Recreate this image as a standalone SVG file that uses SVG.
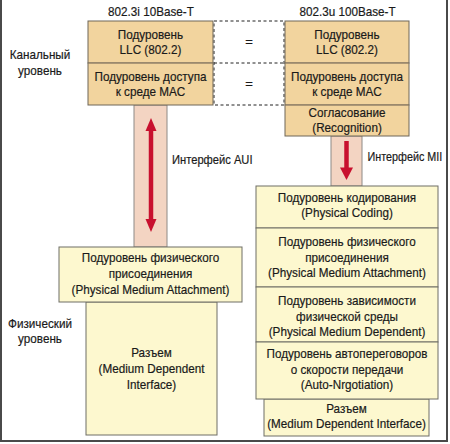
<svg xmlns="http://www.w3.org/2000/svg" width="450" height="444" viewBox="0 0 450 444">
<style>
text{font-family:"Liberation Sans",Arial,sans-serif;font-size:13px;fill:#1a1a1a;stroke:#1a1a1a;stroke-width:0.2;text-anchor:middle}
.st{text-anchor:start}
.tan{fill:#f2d49e;stroke:#6e6659;stroke-width:1}
.div{stroke:#a89272;stroke-width:1.2}
.pale{fill:#fdf8cf;stroke:#6e6e66;stroke-width:1}
.col{fill:#f3d4c2;stroke:#8e8a86;stroke-width:1}
.dash{fill:none;stroke:#222;stroke-width:1;stroke-dasharray:3 2.5}
.arr{stroke:#c8102e;stroke-width:4.5;fill:none}
.head{fill:#c8102e}
</style>
<rect width="450" height="444" fill="#fff"/>
<path d="M1 0V441H447V0" fill="none" stroke="#4a4a4a" stroke-width="2"/>

<g id="level-labels">
<g transform="translate(40 0) scale(0.9 1)"><text y="59">Канальный</text><text y="75">уровень</text></g>
<g transform="translate(40 0) scale(0.9 1)"><text y="328">Физический</text><text y="343">уровень</text></g>
</g>

<g id="title-10base">
<g transform="translate(151 0) scale(0.9 1)"><text y="16.5">802.3i 10Base-T</text></g>
</g>
<g id="title-100base">
<g transform="translate(347.5 0) scale(0.9 1)"><text y="16.5">802.3u 100Base-T</text></g>
</g>

<g id="aui-interface">
<rect class="col" x="134" y="105" width="33" height="142"/>
<g transform="translate(172 0) scale(0.86 1)"><text class="st" y="164.5">Интерфейс AUI</text></g>
</g>
<g id="mii-interface">
<rect class="col" x="331" y="136" width="31" height="50"/>
<g transform="translate(367.5 0) scale(0.83 1)"><text class="st" y="161">Интерфейс MII</text></g>
</g>

<g id="equivalence">
<rect class="dash" x="214" y="21" width="70" height="84"/>
<line class="dash" x1="214" y1="63" x2="284" y2="63"/>
<text x="249" y="46">=</text>
<text x="249" y="88">=</text>
</g>

<g id="llc-10">
<rect class="tan" x="88" y="21" width="125" height="42"/>
<g transform="translate(150.5 0) scale(0.9 1)"><text y="39">Подуровень</text><text y="54.5">LLC (802.2)</text></g>
</g>
<g id="mac-10">
<rect class="tan" x="88" y="63" width="125" height="42"/>
<line class="div" x1="88.5" y1="63" x2="212.5" y2="63"/>
<g transform="translate(150.5 0) scale(0.9 1)"><text y="81.5">Подуровень доступа</text><text y="96.5">к среде MAC</text></g>
</g>

<g id="llc-100">
<rect class="tan" x="285" y="21" width="124" height="42"/>
<g transform="translate(347 0) scale(0.9 1)"><text y="39">Подуровень</text><text y="54.5">LLC (802.2)</text></g>
</g>
<g id="mac-100">
<rect class="tan" x="285" y="63" width="124" height="42"/>
<line class="div" x1="285.5" y1="63" x2="408.5" y2="63"/>
<g transform="translate(347 0) scale(0.9 1)"><text y="81.5">Подуровень доступа</text><text y="96.5">к среде MAC</text></g>
</g>
<g id="recognition">
<rect class="tan" x="285" y="105" width="124" height="31"/>
<line class="div" x1="285.5" y1="105" x2="408.5" y2="105"/>
<g transform="translate(347 0) scale(0.9 1)"><text y="117">Согласование</text><text y="132">(Recognition)</text></g>
</g>

<g id="mdi-10">
<rect class="pale" x="86" y="302" width="131" height="133"/>
<g transform="translate(151.5 0) scale(0.9 1)"><text y="357.5">Разъем</text><text y="373.5">(Medium Dependent</text><text y="389">Interface)</text></g>
</g>
<g id="pma-10">
<rect class="pale" x="59" y="247" width="183" height="55"/>
<g transform="translate(150.5 0) scale(0.9 1)"><text y="262.5">Подуровень физического</text><text y="278.5">присоединения</text><text y="294">(Physical Medium Attachment)</text></g>
</g>

<g id="mdi-100">
<rect class="pale" x="264" y="399" width="165" height="37"/>
<g transform="translate(346.5 0) scale(0.9 1)"><text y="413.5">Разъем</text><text y="428.5">(Medium Dependent Interface)</text></g>
</g>
<g id="coding-100">
<rect class="pale" x="256" y="186" width="182" height="42"/>
<g transform="translate(347 0) scale(0.9 1)"><text y="202.5">Подуровень кодирования</text><text y="217.5">(Physical Coding)</text></g>
</g>
<g id="pma-100">
<rect class="pale" x="256" y="228" width="182" height="59"/>
<g transform="translate(347 0) scale(0.9 1)"><text y="246.5">Подуровень физического</text><text y="262">присоединения</text><text y="277.5">(Physical Medium Attachment)</text></g>
</g>
<g id="pmd-100">
<rect class="pale" x="256" y="287" width="182" height="55"/>
<g transform="translate(347 0) scale(0.9 1)"><text y="305.5">Подуровень зависимости</text><text y="321">физической среды</text><text y="336.5">(Physical Medium Dependent)</text></g>
</g>
<g id="autoneg-100">
<rect class="pale" x="256" y="342" width="182" height="57"/>
<g transform="translate(347 0) scale(0.9 1)"><text y="358.5">Подуровень автопереговоров</text><text y="374.5">о скорости передачи</text><text y="389.5">(Auto-Nrgotiation)</text></g>
</g>

<g id="connectors">
<line class="arr" x1="151" y1="130" x2="151" y2="220"/>
<polygon class="head" points="151,118 145.5,131 156.5,131"/>
<polygon class="head" points="151,232 145.5,219 156.5,219"/>
<line class="arr" x1="346.5" y1="141" x2="346.5" y2="169"/>
<polygon class="head" points="346.5,180 340,167.5 353,167.5"/>
</g>
</svg>
